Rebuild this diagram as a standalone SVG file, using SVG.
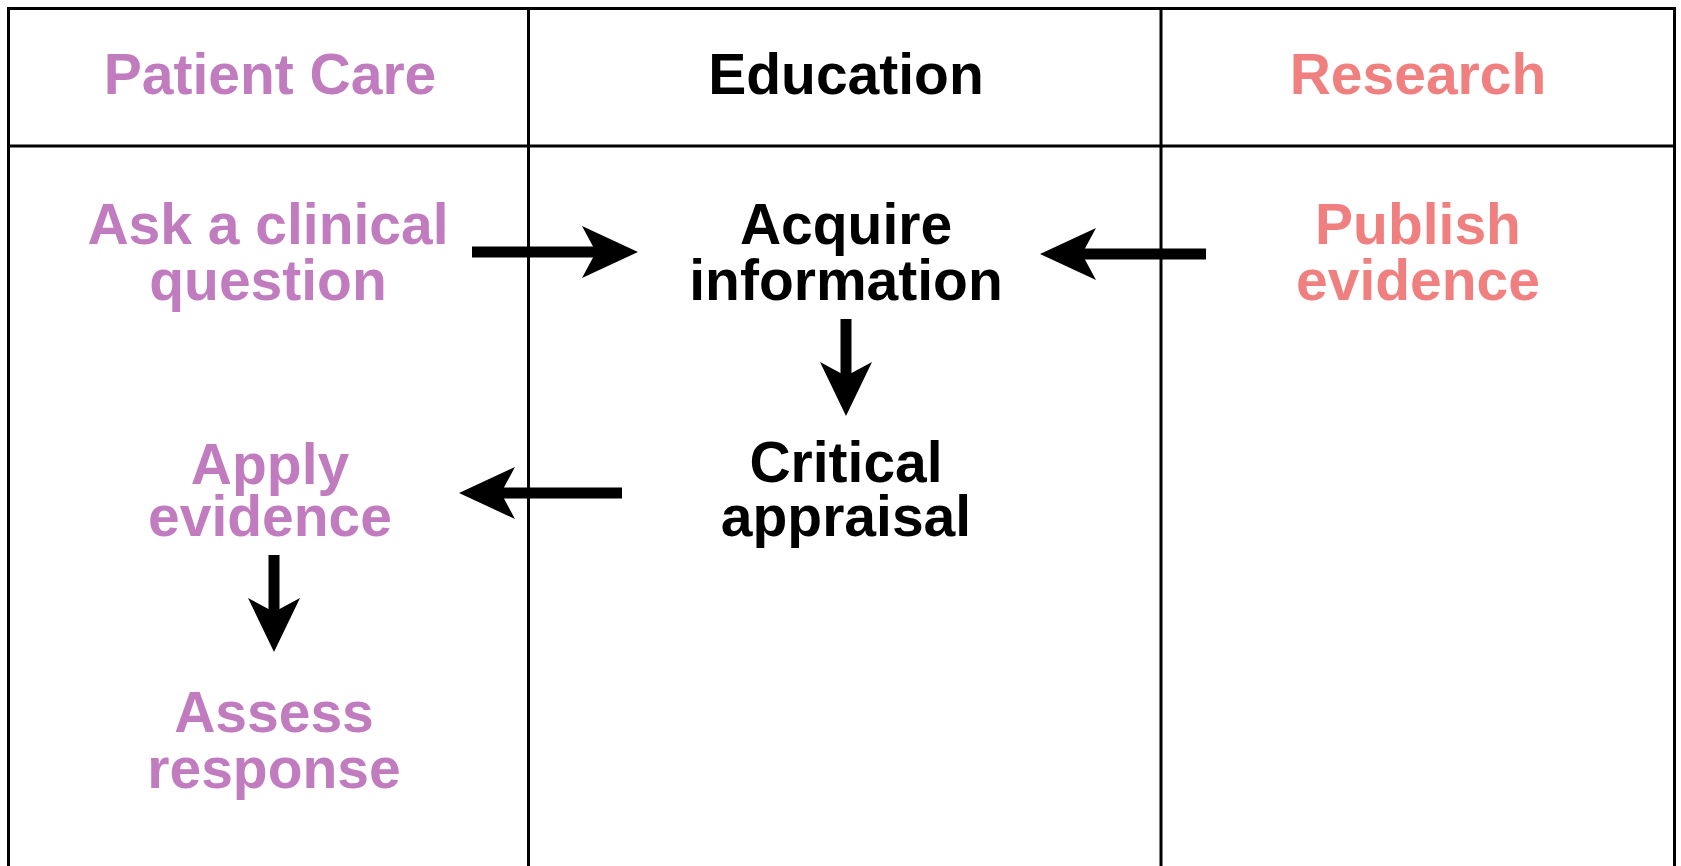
<svg xmlns="http://www.w3.org/2000/svg" width="1681" height="866" viewBox="0 0 1681 866">
<style>
.t{font-family:"Liberation Sans",Arial,sans-serif;font-weight:bold;font-size:57px;text-anchor:middle}
.pc{fill:#C07CBF}
.ed{fill:#000000}
.rs{fill:#F08080}
.grid{fill:none;stroke:#000;stroke-width:3}
.shaft{stroke:#000;stroke-width:11;fill:none}
.head{fill:#000}
</style>
<rect x="0" y="0" width="1681" height="866" fill="#fff"/>
<g id="grid">
<rect class="grid" x="8.5" y="8.5" width="1666" height="870"/>
<line class="grid" x1="8.5" y1="146" x2="1674.5" y2="146"/>
<line class="grid" x1="528.5" y1="8.5" x2="528.5" y2="870"/>
<line class="grid" x1="1161" y1="8.5" x2="1161" y2="870"/>
</g>
<g id="hdr-patient"><text class="t pc" x="270" y="94">Patient Care</text></g>
<g id="hdr-education"><text class="t ed" x="846" y="94">Education</text></g>
<g id="hdr-research"><text class="t rs" x="1418" y="94">Research</text></g>
<g id="n-ask"><text class="t pc" x="268" y="244">Ask a clinical</text><text class="t pc" x="268" y="300">question</text></g>
<g id="n-acquire"><text class="t ed" x="846" y="244">Acquire</text><text class="t ed" x="846" y="300">information</text></g>
<g id="n-publish"><text class="t rs" x="1418" y="244">Publish</text><text class="t rs" x="1418" y="300">evidence</text></g>
<g id="n-critical"><text class="t ed" x="846" y="482">Critical</text><text class="t ed" x="846" y="536">appraisal</text></g>
<g id="n-apply"><text class="t pc" x="270" y="484">Apply</text><text class="t pc" x="270" y="536">evidence</text></g>
<g id="n-assess"><text class="t pc" x="274" y="732">Assess</text><text class="t pc" x="274" y="788">response</text></g>
<g id="connectors">
<line class="shaft" x1="472" y1="252" x2="605" y2="252"/>
<path class="head" d="M638,252 L582,226 L596,252 L582,278 Z"/>
<line class="shaft" x1="1206" y1="254" x2="1073" y2="254"/>
<path class="head" d="M1040,254 L1096,228 L1082,254 L1096,280 Z"/>
<line class="shaft" x1="846" y1="319" x2="846" y2="385"/>
<path class="head" d="M846,416 L820,362 L846,376 L872,362 Z"/>
<line class="shaft" x1="622" y1="493" x2="490" y2="493"/>
<path class="head" d="M459,493 L515,467 L501,493 L515,519 Z"/>
<line class="shaft" x1="274" y1="555" x2="274" y2="620"/>
<path class="head" d="M274,652 L248,598 L274,612 L300,598 Z"/>
</g>
</svg>
